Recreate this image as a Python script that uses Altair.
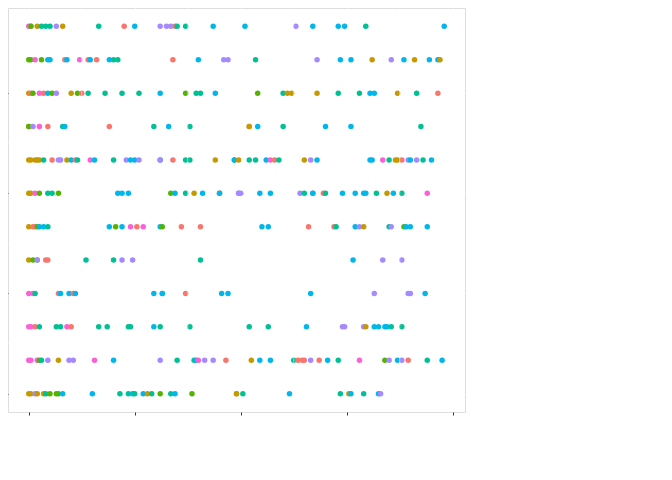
import altair as alt
import pandas as pd

artists = ["Brennan Heart", "D-Block & S-te-Fan", "Da Tweekaz", "Headhunterz",
           "Noisecontrollers", "Showtek", "Sub Zero Project"]
colors = ["#F8766D", "#C49A00", "#53B400", "#00C094", "#00B6EB", "#A58AFF", "#FB61D7"]
code = dict(zip("BDTHNSZ", artists))

# one artist code string and one value list per key
k11_art = "ZZTDHHHSDHBNSSSBHHNNSNNNHN"
k11_val = [0.0, 0.005, 0.005, 0.02, 0.03, 0.04, 0.05, 0.065, 0.08, 0.165, 0.225, 0.25,
           0.31, 0.325, 0.335, 0.345, 0.35, 0.37, 0.435, 0.51, 0.63, 0.67, 0.73, 0.745, 0.795, 0.98]
k10_art = "TTZTNNBNZBNBNHHBNSSHSNNDSNDNND"
k10_val = [0.0, 0.005, 0.015, 0.03, 0.045, 0.05, 0.085, 0.09, 0.12, 0.14, 0.145, 0.16,
           0.19, 0.2, 0.21, 0.34, 0.4, 0.46, 0.47, 0.535, 0.68, 0.735, 0.76, 0.81, 0.855,
           0.885, 0.91, 0.945, 0.965, 0.97]
k9_art = "DBTZBNTSDTBHHHHNTHHNTHDDDHHNNDHB"
k9_val = [0.0, 0.005, 0.01, 0.025, 0.035, 0.045, 0.055, 0.065, 0.1, 0.115, 0.125, 0.14,
          0.18, 0.22, 0.26, 0.31, 0.37, 0.395, 0.405, 0.44, 0.54, 0.6, 0.61, 0.62, 0.68,
          0.73, 0.78, 0.805, 0.815, 0.87, 0.915, 0.965]
k8_art = "DTSZBHNBHNHBDNHNNH"
k8_val = [0.0, 0.0, 0.01, 0.025, 0.045, 0.08, 0.085, 0.19, 0.295, 0.33, 0.38, 0.52, 0.52,
          0.54, 0.6, 0.7, 0.76, 0.925]
k7_art = "DDDDDHBSSDNBHZNHSNNSHSBHHDNNDHHNZBHDSNNNZHDDBSNSHN"
k7_val = [0.0, 0.005, 0.015, 0.02, 0.025, 0.035, 0.055, 0.07, 0.075, 0.09, 0.1, 0.11,
          0.115, 0.145, 0.155, 0.2, 0.23, 0.24, 0.25, 0.26, 0.31, 0.31, 0.34, 0.37, 0.38,
          0.44, 0.485, 0.485, 0.495, 0.52, 0.535, 0.56, 0.57, 0.58, 0.59, 0.65, 0.665,
          0.68, 0.805, 0.81, 0.835, 0.85, 0.865, 0.87, 0.88, 0.895, 0.9, 0.915, 0.93, 0.95, 0.98]
k6_art = "DDZTHHTNNNTNHDNDNSSSNNSHSNBHNNNNHDNHZ"
k6_val = [0.0, 0.005, 0.015, 0.025, 0.045, 0.055, 0.07, 0.21, 0.22, 0.235, 0.335, 0.345,
          0.37, 0.39, 0.41, 0.45, 0.45, 0.495, 0.495, 0.5, 0.545, 0.57, 0.64, 0.65, 0.67,
          0.67, 0.695, 0.7, 0.74, 0.77, 0.79, 0.795, 0.82, 0.845, 0.86, 0.88, 0.94]
k5_art = "DBBTNNHNTNZBZNTBBNNBBHNSDHSTNNN"
k5_val = [0.0, 0.01, 0.015, 0.02, 0.025, 0.035, 0.045, 0.19, 0.205, 0.22, 0.24, 0.255,
          0.27, 0.31, 0.315, 0.36, 0.405, 0.55, 0.565, 0.66, 0.72, 0.725, 0.77, 0.78,
          0.79, 0.85, 0.855, 0.885, 0.89, 0.9, 0.94]
k4_art = "DTTSBBHHSSHNSS"
k4_val = [0.0, 0.01, 0.02, 0.02, 0.04, 0.045, 0.135, 0.2, 0.22, 0.245, 0.405, 0.765, 0.835, 0.88]
k3_art = "ZZHBNNBNNSNBNNNSSSN"
k3_val = [0.0, 0.01, 0.015, 0.07, 0.075, 0.095, 0.105, 0.11, 0.295, 0.315, 0.315, 0.37,
          0.455, 0.47, 0.665, 0.815, 0.895, 0.9, 0.935]
k2_art = "ZZBHHHZBHHHHNHHHHNSSSDNNNNHH"
k2_val = [0.0, 0.005, 0.015, 0.025, 0.065, 0.075, 0.09, 0.1, 0.165, 0.185, 0.235, 0.24,
          0.295, 0.31, 0.38, 0.52, 0.565, 0.655, 0.74, 0.745, 0.79, 0.795, 0.815, 0.825,
          0.84, 0.845, 0.855, 0.88]
k1_art = "ZZZTHSDSSZNSHHNZSSBDNNHBBBSBNHZTSNSBHN"
k1_val = [0.0, 0.005, 0.02, 0.025, 0.03, 0.045, 0.07, 0.095, 0.105, 0.155, 0.2, 0.31,
          0.35, 0.39, 0.395, 0.4, 0.415, 0.435, 0.465, 0.525, 0.545, 0.57, 0.625, 0.635,
          0.645, 0.65, 0.665, 0.685, 0.705, 0.73, 0.78, 0.84, 0.85, 0.87, 0.88, 0.895,
          0.94, 0.975]
k0_art = "DDSDDHTTTNNHHNHNDHTHNTDDHNHDNHNS"
k0_val = [0.0, 0.005, 0.015, 0.02, 0.035, 0.04, 0.05, 0.065, 0.07, 0.08, 0.15, 0.215,
          0.235, 0.245, 0.25, 0.27, 0.28, 0.29, 0.31, 0.335, 0.345, 0.385, 0.49, 0.49,
          0.505, 0.615, 0.735, 0.755, 0.76, 0.79, 0.825, 0.83]

rows = {11: (k11_art, k11_val), 10: (k10_art, k10_val), 9: (k9_art, k9_val),
        8: (k8_art, k8_val), 7: (k7_art, k7_val), 6: (k6_art, k6_val),
        5: (k5_art, k5_val), 4: (k4_art, k4_val), 3: (k3_art, k3_val),
        2: (k2_art, k2_val), 1: (k1_art, k1_val), 0: (k0_art, k0_val)}

recs = []
for k, (arts, vals) in rows.items():
    for a, v in zip(arts, vals):
        recs.append({"instrumentalness": v, "key": k, "Artis": code[a]})
df = pd.DataFrame(recs)

x_minor = [0.125, 0.375, 0.625, 0.875]
y_minor = [1.5, 4.5, 7.5, 10.5]

xs = alt.Scale(domain=[-0.049, 1.029], nice=False, zero=False)
ys = alt.Scale(domain=[-0.55, 11.55], nice=False, zero=False)

axis_common = dict(grid=True, gridColor="white", gridWidth=1.1, domain=False,
                   tickColor="#333333", tickSize=3, labelColor="#4D4D4D", labelFontSize=11,
                   labelFont="Arial", titleFont="Arial", titleFontSize=14,
                   titleFontWeight="normal", titleColor="black", labelPadding=3)

minor_x = alt.Chart(pd.DataFrame({"v": x_minor})).mark_rule(
    color="white", strokeWidth=0.5).encode(x=alt.X("v:Q", scale=xs, title="instrumentalness"))
minor_y = alt.Chart(pd.DataFrame({"v": y_minor})).mark_rule(
    color="white", strokeWidth=0.5).encode(y=alt.Y("v:Q", scale=ys, title="key"))

points = alt.Chart(df).mark_circle(size=30, opacity=1).encode(
    x=alt.X("instrumentalness:Q", scale=xs, title="instrumentalness",
            axis=alt.Axis(values=[0, 0.25, 0.5, 0.75, 1.0], format=".2f", **axis_common)),
    y=alt.Y("key:Q", scale=ys, title="key",
            axis=alt.Axis(values=[0, 3, 6, 9], format="d", titlePadding=8, **axis_common)),
    color=alt.Color("Artis:N", scale=alt.Scale(domain=artists, range=colors),
                    legend=alt.Legend(title="Artis", titleFontSize=14, titleFont="Arial",
                                      titleFontWeight="normal", labelFont="Arial",
                                      labelFontSize=11, symbolType="circle", symbolSize=40,
                                      rowPadding=6, orient="none", legendX=482,
                                      legendY=112, titlePadding=10)),
)

chart = (points + minor_x + minor_y).properties(
    width=457, height=404,
    title=alt.TitleParams("instrumentalness plotted relative to key", anchor="start",
                          font="Arial", fontSize=17, fontWeight="normal", color="black",
                          offset=5),
).configure_view(fill="#EBEBEB", stroke=None).configure(
    padding={"left": 0, "top": 0, "right": 5, "bottom": 5}, autosize="none")

chart = chart.properties(width=457, height=404)
chart.save("out.html", embed_options={"renderer": "svg", "actions": False})
